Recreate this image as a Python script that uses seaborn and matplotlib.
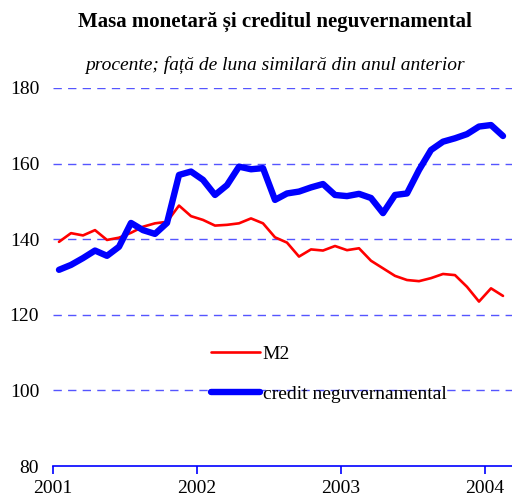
import pandas as pd
import matplotlib
matplotlib.use("Agg")
import matplotlib.pyplot as plt
import seaborn as sns

# monthly data, Jan 2001 - Feb 2004 (percent, same month previous year = 100)
months = pd.date_range("2001-01-01", "2004-02-01", freq="MS")
m2 = [139.3, 141.6, 141.0, 142.4, 139.8, 140.4, 141.7, 143.3, 144.2, 144.6, 148.9, 146.1,
      145.1, 143.6, 143.8, 144.2, 145.5, 144.2, 140.5, 139.1, 135.4, 137.3, 137.0, 138.2,
      137.1, 137.6, 134.3, 132.3, 130.3, 129.2, 128.9, 129.7, 130.8, 130.5, 127.4, 123.5,
      127.0, 125.0]
credit = [131.9, 133.2, 135.0, 137.0, 135.6, 138.0, 144.3, 142.4, 141.4, 144.3, 157.0, 157.9,
          155.7, 151.7, 154.3, 159.2, 158.5, 158.8, 150.4, 152.1, 152.6, 153.7, 154.6, 151.7,
          151.4, 152.0, 150.9, 146.9, 151.7, 152.1, 158.3, 163.6, 165.8, 166.7, 167.8, 169.8,
          170.2, 167.3]
year_labels = ["2001", "2002", "2003", "2004"]

data = pd.DataFrame({"idx": range(len(months)), "M2": m2, "credit neguvernamental": credit})

sns.set_style("white")
plt.rcParams['font.family'] = ['Liberation Serif', 'DejaVu Serif']
plt.rcParams['text.color'] = 'black'
plt.rcParams['xtick.color'] = 'black'
plt.rcParams['ytick.color'] = 'black'

fig = plt.figure(figsize=(5.12, 4.98), dpi=100)
ax = fig.add_axes([53 / 512, 1 - 466 / 498, 1 - 53 / 512, (466 - 88) / 498])

# dashed grid lines
for v in [100, 120, 140, 160, 180]:
    ax.axhline(v, color='#5555ff', lw=1, ls=(0, (6, 4.5)), zorder=0)

sns.lineplot(data=data, x="idx", y="M2", color='#ff0000', lw=1.9, ax=ax,
             label="M2", solid_joinstyle='round', solid_capstyle='round')
sns.lineplot(data=data, x="idx", y="credit neguvernamental", color='#0000ff', lw=4.6, ax=ax,
             label="credit neguvernamental", solid_joinstyle='round', solid_capstyle='round')

ax.set_xlim(-0.5, 37.75)
ax.set_ylim(80, 180)
ax.set_yticks([80, 100, 120, 140, 160, 180])
ax.set_xticks([-0.5, 11.5, 23.5, 35.5])
ax.set_xticklabels(year_labels)
ax.set_xlabel("")
ax.set_ylabel("")

for s in ['top', 'right', 'left']:
    ax.spines[s].set_visible(False)
ax.spines['bottom'].set_color('#0000ff')
ax.spines['bottom'].set_linewidth(1.2)
ax.tick_params(axis='x', bottom=True, colors='#0000ff', direction='out', length=6, width=1.2,
               labelcolor='black', labelsize=14, pad=4)
ax.tick_params(axis='y', left=False, length=0, labelsize=14, labelcolor='black', pad=10)

leg = ax.legend(loc='upper left', bbox_to_anchor=(211 / 512, 1 - 345 / 498),
                bbox_transform=fig.transFigure, frameon=False, fontsize=14,
                borderpad=0, borderaxespad=0, handlelength=2.5, handletextpad=0.15,
                labelspacing=1.15)
for t in leg.get_texts():
    t.set_color('black')

fig.text(275 / 512, 1 - 22 / 498, "Masa monetară și creditul neguvernamental",
         ha='center', va='center', fontsize=15, fontweight='bold', color='black')
fig.text(275 / 512, 1 - 65 / 498, "procente; față de luna similară din anul anterior",
         ha='center', va='center', fontsize=14, style='italic', color='black')

fig.savefig("out.png", dpi=100)
